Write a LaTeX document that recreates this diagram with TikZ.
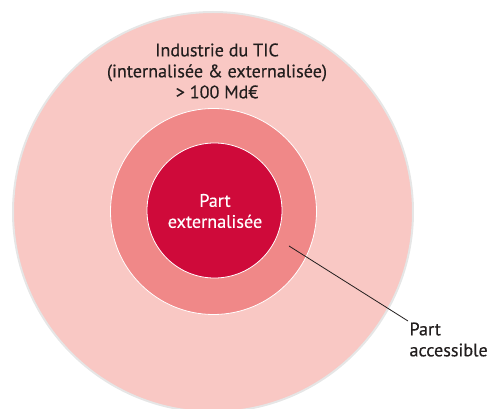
\documentclass[tikz,border=0pt]{standalone}
\usepackage{fontspec}
\setmainfont{PT Sans}
\newfontfamily\labelfont{PT Sans}[FakeBold=0.35]
\usetikzlibrary{calc}
\tikzset{every picture/.style={line width=0.75pt}}
\definecolor{ringOuter}{RGB}{249,200,196}
\definecolor{ringMid}{RGB}{240,136,136}
\definecolor{coreRed}{RGB}{207,10,58}
\definecolor{rimGray}{RGB}{230,230,230}
\definecolor{inkDark}{RGB}{34,30,30}
\tikzset{
  lbl/.style={inner sep=0.75pt, align=center, text=inkDark, font=\labelfont\fontsize{13.6}{15.75}\selectfont},
  lblwhite/.style={lbl, text=white}
}

\begin{document}
\begin{tikzpicture}[x=0.75pt,y=0.75pt,yscale=-1,xscale=1]
\useasboundingbox (0,0) rectangle (497,409);

%Shape: Circle [outer]
\draw  [draw=rimGray, fill=ringOuter, line width=1.5pt] (213,212) circle (200) ;
%Shape: Circle [middle]
\draw  [draw=white, fill=ringMid, line width=0.6pt] (213.5,211.5) circle (103) ;
%Shape: Circle [core]
\draw  [draw=white, fill=coreRed, line width=0.6pt] (214.5,210.5) circle (67.5) ;

% Text Node
\node [lbl] (industrie) at (217,71) {Industrie du TIC\\(internalisée \& externalisée)\\> 100 Md€};
% Text Node
\node [lblwhite] (externe) at (215,211) {Part\\externalisée};
% Text Node
\node [lbl, align=left, anchor=north west] (accessible) at (408,321) {Part\\accessible};

%Straight Lines
\coordinate (ringpt) at (289,246);
\draw [color=inkDark, line width=0.6pt] (ringpt) -- (accessible.north west) ;

\end{tikzpicture}
\end{document}
